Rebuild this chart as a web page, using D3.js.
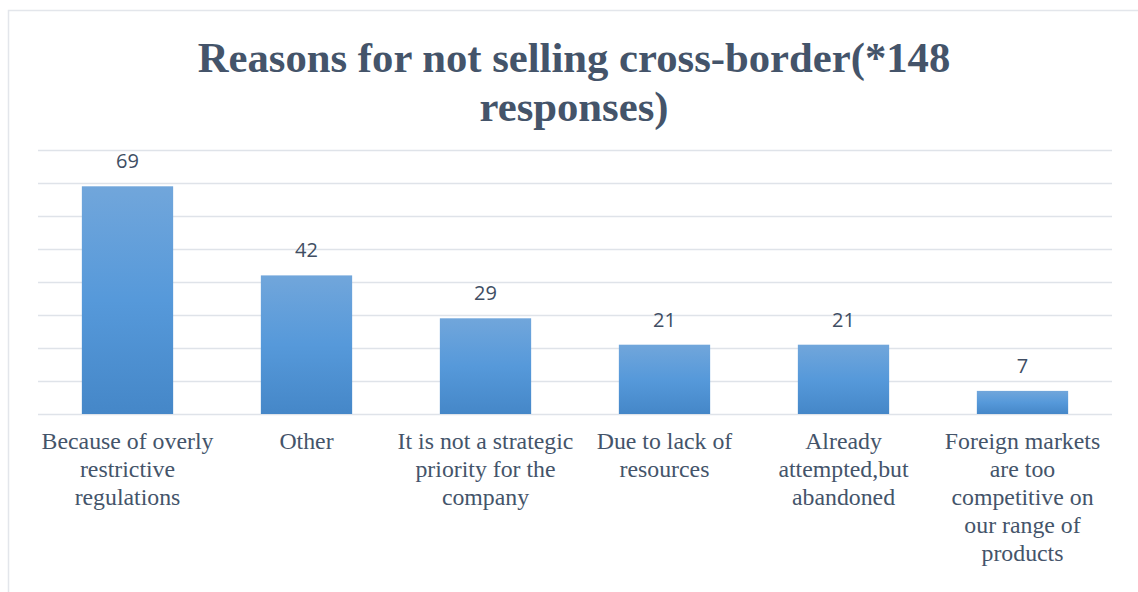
<!DOCTYPE html>
<html>
<head>
<meta charset="utf-8">
<script src="https://cdn.jsdelivr.net/npm/d3@7"></script>
<style>
  html, body { margin: 0; padding: 0; background: #fff; }
  svg { display: block; }
</style>
</head>
<body>
<svg id="chart" width="1138" height="592"></svg>
<script>
// Survey answers: why companies do not sell cross-border
const titleLines = ["Reasons for not selling cross-border(*148", "responses)"];
const categories = [
  "Because of overly\nrestrictive\nregulations",
  "Other",
  "It is not a strategic\npriority for the\ncompany",
  "Due to lack of\nresources",
  "Already\nattempted,but\nabandoned",
  "Foreign markets\nare too\ncompetitive on\nour range of\nproducts"
];
const responses = [69, 42, 29, 21, 21, 7];
const gridTicks = [0, 10, 20, 30, 40, 50, 60, 70, 80];

const svg = d3.select("#chart");
const W = 1138, H = 592;
const plot = { left: 38, right: 1112, top: 150, bottom: 414 };

// chart frame
svg.append("rect")
  .attr("x", 8.5).attr("y", 10.5)
  .attr("width", W + 10).attr("height", H + 10)
  .attr("fill", "#fff")
  .attr("stroke", "#e3e6eb").attr("stroke-width", 1.5);

// bar gradient
const defs = svg.append("defs");
const grad = defs.append("linearGradient")
  .attr("id", "barFill").attr("x1", 0).attr("y1", 0).attr("x2", 0).attr("y2", 1);
grad.append("stop").attr("offset", "0%").attr("stop-color", "#71a6db");
grad.append("stop").attr("offset", "50%").attr("stop-color", "#5699da");
grad.append("stop").attr("offset", "100%").attr("stop-color", "#4587c8");

const x = d3.scaleBand()
  .domain(categories)
  .range([plot.left, plot.right])
  .paddingInner(0.49)
  .paddingOuter(0.245);

const y = d3.scaleLinear()
  .domain([0, 80])
  .range([plot.bottom, plot.top]);

// horizontal gridlines
svg.append("g")
  .attr("transform", `translate(${plot.left},0)`)
  .call(d3.axisLeft(y).tickValues(gridTicks)
    .tickSize(-(plot.right - plot.left)).tickFormat(""))
  .call(g => g.select(".domain").remove())
  .call(g => g.selectAll(".tick line")
    .attr("stroke", "#dfe3e9").attr("stroke-width", 1.5));

// title
svg.append("text")
  .attr("x", 574).attr("y", 72)
  .attr("text-anchor", "middle")
  .attr("font-family", "'Liberation Serif', 'Times New Roman', serif")
  .attr("font-weight", "bold")
  .attr("font-size", 42.7)
  .attr("fill", "#44546a")
  .selectAll("tspan").data(titleLines).join("tspan")
  .attr("x", 574)
  .attr("dy", (d, i) => i === 0 ? 0 : 49)
  .text(d => d);

// bars
svg.append("g").selectAll("rect")
  .data(responses)
  .join("rect")
  .attr("x", (d, i) => x(categories[i]))
  .attr("y", d => y(d))
  .attr("width", x.bandwidth())
  .attr("height", d => y(0) - y(d))
  .attr("fill", "url(#barFill)");

// value labels
svg.append("g").selectAll("text")
  .data(responses)
  .join("text")
  .attr("x", (d, i) => x(categories[i]) + x.bandwidth() / 2)
  .attr("y", d => y(d) - 18)
  .attr("text-anchor", "middle")
  .attr("font-family", "'Open Sans', 'Noto Sans', sans-serif")
  .attr("font-size", 20)
  .attr("fill", "#404e63")
  .text(d => d);

// category labels
const xAxis = svg.append("g")
  .attr("transform", `translate(0,${plot.bottom})`)
  .call(d3.axisBottom(x).tickSize(0).tickFormat(""));
xAxis.select(".domain").remove();
xAxis.selectAll(".tick").each(function(d) {
  const t = d3.select(this).append("text")
    .attr("y", 35)
    .attr("text-anchor", "middle")
    .attr("font-family", "'Liberation Serif', 'Times New Roman', serif")
    .attr("font-size", 23.8)
    .attr("fill", "#44546a");
  t.selectAll("tspan").data(d.split("\n")).join("tspan")
    .attr("x", 0)
    .attr("dy", (s, i) => i === 0 ? 0 : 28)
    .text(s => s);
});
</script>
</body>
</html>
